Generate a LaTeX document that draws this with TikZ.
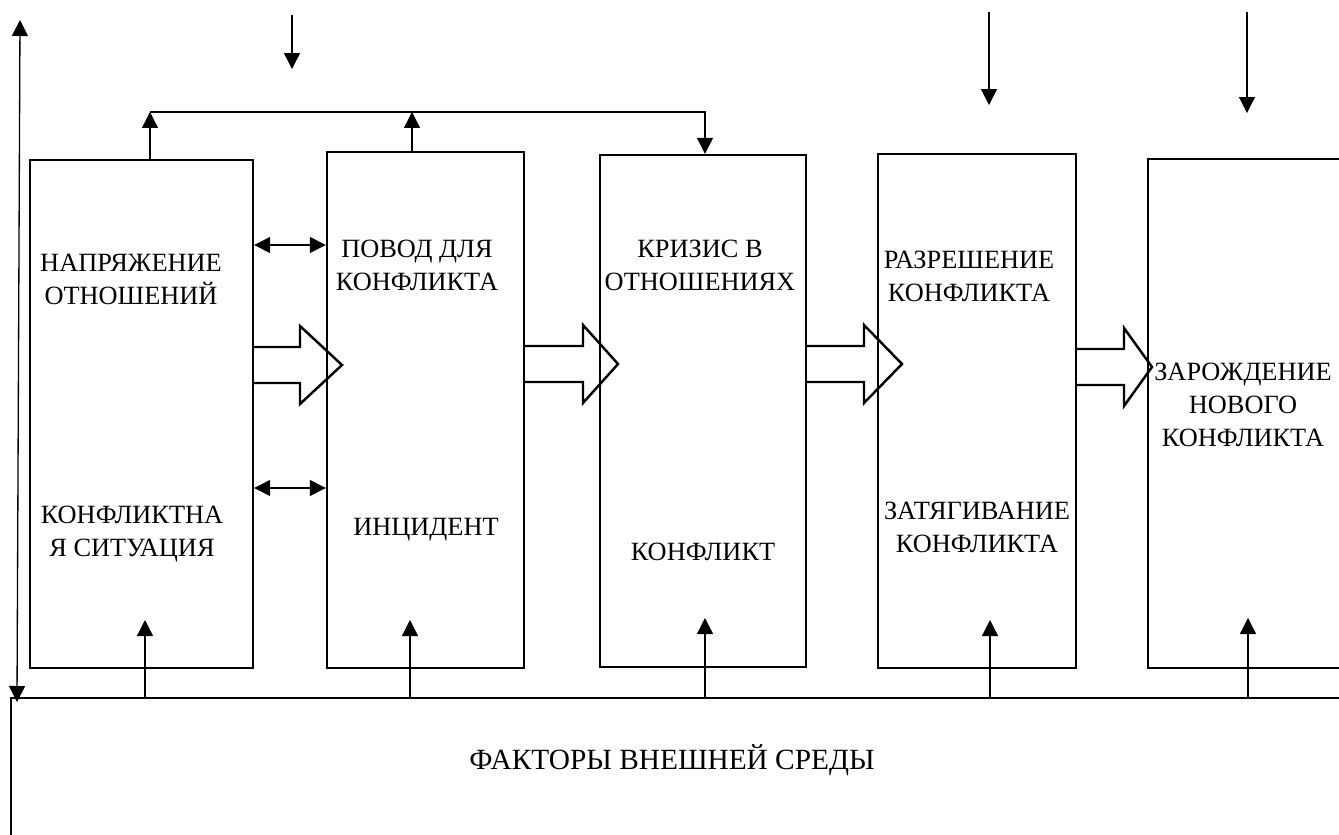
\documentclass[tikz,border=0pt]{standalone}
\usepackage{fontspec}
\setmainfont{Liberation Serif}
\usetikzlibrary{arrows.meta}

\tikzset{
  stage/.style={draw, line width=1.4pt, inner sep=0pt},
  stagetext/.style={inner sep=0pt, align=center, font=\fontsize{15pt}{18.8pt}\selectfont},
  link/.style={line width=0.75pt, -{Triangle[length=0.32cm,width=0.32cm]}},
  twoway/.style={line width=0.75pt, {Triangle[length=0.32cm,width=0.32cm]}-{Triangle[length=0.32cm,width=0.32cm]}},
  hollow/.style={line width=1.4pt, line join=miter},
}

% block arrow: start x, head x, tip x, middle y
\newcommand{\blockarrow}[4]{%
  \draw[hollow] (#1,#4-18) -- (#2,#4-18) -- (#2,#4-39) -- (#3,#4)
    -- (#2,#4+39) -- (#2,#4+18) -- (#1,#4+18);}

\begin{document}
\begin{tikzpicture}[x=0.02cm, y=-0.02cm]
    \useasboundingbox (0,0) rectangle (1339,835);
    \clip (0,0) rectangle (1339,835);

    % stages of the conflict
    \node[stage, minimum width=4.46cm, minimum height=10.16cm] (box1) at (141.5,414) {};
    \node[stage, minimum width=3.94cm, minimum height=10.32cm] (box2) at (425.5,410) {};
    \node[stage, minimum width=4.12cm, minimum height=10.24cm] (box3) at (703,411) {};
    \node[stage, minimum width=3.96cm, minimum height=10.28cm] (box4) at (977,411) {};
    \node[stage, minimum width=4.24cm, minimum height=10.18cm] (box5) at (1254,413.5) {};
    \node[stage, minimum width=26.98cm, minimum height=3.44cm] (env) at (685.5,784) {};

    \node[stagetext] (tension) at (131,279) {НАПРЯЖЕНИЕ\\ОТНОШЕНИЙ};
    \node[stagetext] (situation) at (132,534) {КОНФЛИКТНА\\Я СИТУАЦИЯ};
    \node[stagetext] (reason) at (417,265) {ПОВОД ДЛЯ\\КОНФЛИКТА};
    \node[stagetext] (incident) at (426,530) {ИНЦИДЕНТ};
    \node[stagetext] (crisis) at (700,265) {КРИЗИС В\\ОТНОШЕНИЯХ};
    \node[stagetext] (conflict) at (703,552) {КОНФЛИКТ};
    \node[stagetext] (resolution) at (969,276) {РАЗРЕШЕНИЕ\\КОНФЛИКТА};
    \node[stagetext] (delay) at (977,527) {ЗАТЯГИВАНИЕ\\КОНФЛИКТА};
    \node[stagetext] (newconf) at (1243,405) {ЗАРОЖДЕНИЕ\\НОВОГО\\КОНФЛИКТА};
    \node[stagetext, font=\fontsize{16.7pt}{20pt}\selectfont] (factors) at (672,760) {ФАКТОРЫ ВНЕШНЕЙ СРЕДЫ};

    % transitions between stages
    \blockarrow{253}{300}{342}{365}
    \blockarrow{524}{583}{618}{364}
    \blockarrow{806}{864}{902}{364}
    \blockarrow{1076}{1124}{1152}{367}

    % two-way links
    \coordinate (d1) at (0,245);
    \coordinate (d2) at (0,488);
    \draw[twoway] (box1.east |- d1) -- (box2.west |- d1);
    \draw[twoway] (box1.east |- d2) -- (box2.west |- d2);

    % link over the top
    \coordinate (j1) at (150,112);
    \coordinate (j2) at (412,112);
    \coordinate (j3) at (705,112);
    \draw[link] (box1.north -| j1) -- (j1);
    \draw[link] (box2.north -| j2) -- (j2);
    \draw[link] (j1) -- (j3) -- (box3.north -| j3);

    % arrows from above
    \coordinate (a1) at (292,15);  \coordinate (b1) at (292,69);
    \coordinate (a2) at (989,12);  \coordinate (b2) at (989,105);
    \coordinate (a3) at (1247,12); \coordinate (b3) at (1247,113);
    \draw[link] (a1) -- (b1);
    \draw[link] (a2) -- (b2);
    \draw[link] (a3) -- (b3);

    % influence of the environment
    \coordinate (u1) at (145,620);
    \coordinate (u2) at (410,620);
    \coordinate (u3) at (705,618);
    \coordinate (u4) at (990,620);
    \coordinate (u5) at (1248,618);
    \foreach \u in {u1,u2,u3,u4,u5}
        \draw[link] (env.north -| \u) -- (\u);

    % left feedback line
    \coordinate (top) at (20,20);
    \coordinate (bot) at (17,702);
    \draw[twoway] (bot) -- (top);
\end{tikzpicture}
\end{document}
